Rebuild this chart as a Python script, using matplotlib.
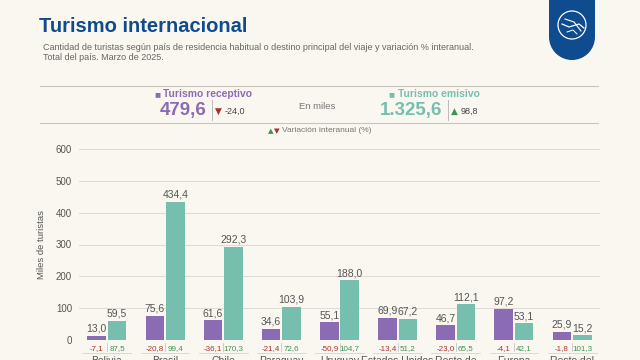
import numpy as np
import matplotlib.pyplot as plt
from matplotlib.patches import Rectangle, Circle

plt.rcParams['font.family'] = ['Liberation Sans', 'DejaVu Sans']

# Datos
categorias = ["Bolivia", "Brasil", "Chile", "Paraguay", "Uruguay", "Estados Unidos",
              "Resto de\nAmérica", "Europa", "Resto del\nmundo"]
receptivo = [13.0, 75.6, 61.6, 34.6, 55.1, 69.9, 46.7, 97.2, 25.9]
emisivo = [59.5, 434.4, 292.3, 103.9, 188.0, 67.2, 112.1, 53.1, 15.2]
var_receptivo = [-7.1, -20.8, -36.1, -21.4, -50.9, -13.4, -23.0, -4.1, -1.8]
var_emisivo = [87.5, 99.4, 170.3, 72.6, 104.7, 51.2, 65.5, 42.1, 101.3]
total_receptivo = 479.6
total_emisivo = 1325.6
var_total_receptivo = -24.0
var_total_emisivo = 98.8

BG = "#faf7f0"
PURPLE = "#8b6bb3"
TEAL = "#76bfae"
BLUE = "#0f4c8f"
RED = "#a8322b"
GREEN = "#3f9455"
GREY = "#555555"

W, H = 640, 360


def fx(px):
    return px / W


def fy(py):
    return 1 - py / H


def fmt(v, dec=1):
    s = f"{v:,.{dec}f}"
    return s.replace(",", "X").replace(".", ",").replace("X", ".")


fig = plt.figure(figsize=(6.4, 3.6), dpi=100, facecolor=BG)

# Encabezado
fig.text(fx(39), fy(27), "Turismo internacional", fontsize=14.5, fontweight="bold",
         color=BLUE, va="center", ha="left")
fig.text(fx(43), fy(47), "Cantidad de turistas según país de residencia habitual o destino principal "
         "del viaje y variación % interanual.", fontsize=6.5, color="#666666", va="center")
fig.text(fx(43), fy(58), "Total del país. Marzo de 2025.", fontsize=6.5, color="#666666", va="center")

# Logo
lax = fig.add_axes([fx(549), fy(60), fx(46), 60 / H])
lax.set_xlim(0, 46)
lax.set_ylim(0, 60)
lax.set_aspect("equal", adjustable="datalim")
lax.axis("off")
lax.add_patch(Rectangle((0, 23), 46, 40, color=BLUE, lw=0))
lax.add_patch(Circle((23, 23), 23, color=BLUE, lw=0))
lax.add_patch(Circle((23, 35), 14, fill=False, ec="white", lw=0.9))
lax.plot([13, 20, 30, 35], [36, 33, 36, 32], color="white", lw=0.9)
lax.plot([16, 25, 32], [41, 38, 29], color="white", lw=0.8)
lax.plot([18, 24, 28], [28, 30, 26], color="white", lw=0.7)

# Líneas del bloque de totales
fig.add_artist(plt.Line2D([fx(40), fx(598)], [fy(86), fy(86)], color="#c8c4bc", lw=0.8))
fig.add_artist(plt.Line2D([fx(40), fx(598)], [fy(123), fy(123)], color="#c8c4bc", lw=0.8))

# Totales
fig.text(fx(154), fy(94), "■", fontsize=7.2, color=PURPLE, va="center")
fig.text(fx(163), fy(94), "Turismo receptivo", fontsize=7.4, fontweight="bold", color=PURPLE, va="center")
fig.text(fx(206), fy(110.5), fmt(total_receptivo), fontsize=13.5, fontweight="bold",
         color=PURPLE, va="center", ha="right")
fig.add_artist(plt.Line2D([fx(212), fx(212)], [fy(100), fy(120)], color="#bbbbbb", lw=0.7))
fig.text(fx(215), fy(111), "▼", fontsize=6.5, color=RED, va="center", family="DejaVu Sans")
fig.text(fx(225), fy(111), fmt(var_total_receptivo), fontsize=6.5, color="#444444", va="center")

fig.text(fx(317), fy(106), "En miles", fontsize=6.8, color="#777777", va="center", ha="center")

fig.text(fx(388), fy(94), "■", fontsize=7.2, color=TEAL, va="center")
fig.text(fx(398), fy(94), "Turismo emisivo", fontsize=7.4, fontweight="bold", color=TEAL, va="center")
fig.text(fx(442), fy(110.5), fmt(total_emisivo), fontsize=13.5, fontweight="bold",
         color=TEAL, va="center", ha="right")
fig.add_artist(plt.Line2D([fx(448), fx(448)], [fy(100), fy(120)], color="#bbbbbb", lw=0.7))
fig.text(fx(451), fy(111), "▲", fontsize=6.5, color=GREEN, va="center", family="DejaVu Sans")
fig.text(fx(461), fy(111), fmt(var_total_emisivo), fontsize=6.5, color="#444444", va="center")

fig.text(fx(268), fy(131), "▲", fontsize=5.2, color=GREEN, va="center", family="DejaVu Sans")
fig.text(fx(274), fy(131), "▼", fontsize=5.2, color=RED, va="center", family="DejaVu Sans")
fig.text(fx(282), fy(131), "Variación interanual (%)", fontsize=6, color="#777777", va="center")

# Gráfico de barras
ax = fig.add_axes([fx(79), 20 / H, 521 / W, 191 / H])
ax.set_facecolor(BG)
x = np.arange(len(categorias))
bw = 0.32
off = 0.175
ax.bar(x - off, receptivo, bw, color=PURPLE, zorder=3)
ax.bar(x + off, emisivo, bw, color=TEAL, zorder=3)
ax.set_xlim(-0.48, 8.48)
ax.set_ylim(0, 600)
ax.set_yticks(range(0, 601, 100))
ax.tick_params(axis="y", length=0, labelsize=7, labelcolor=GREY, pad=5)
ax.set_xticks([])
ax.grid(axis="y", color="#dedbd4", lw=0.7, zorder=0)
for s in ax.spines.values():
    s.set_visible(False)
ax.set_ylabel("Miles de turistas", fontsize=6.8, color=GREY, labelpad=7)

for i in range(len(categorias)):
    ax.annotate(fmt(receptivo[i]), (x[i] - off, receptivo[i]), xytext=(0, 1.5),
                textcoords="offset points", ha="center", va="bottom", fontsize=7.5, color=GREY)
    ax.annotate(fmt(emisivo[i]), (x[i] + off, emisivo[i]), xytext=(0, 1.5),
                textcoords="offset points", ha="center", va="bottom", fontsize=7.5, color=GREY)
    ax.annotate(fmt(var_receptivo[i]), (x[i] - off, 0), xytext=(0, -6),
                textcoords="offset points", ha="center", va="center", fontsize=5.8,
                color=RED if var_receptivo[i] < 0 else GREEN, annotation_clip=False)
    ax.annotate(fmt(var_emisivo[i]), (x[i] + off, 0), xytext=(0, -6),
                textcoords="offset points", ha="center", va="center", fontsize=5.8,
                color=RED if var_emisivo[i] < 0 else GREEN, annotation_clip=False)
    # separadores
    ax.plot([x[i], x[i]], [-8, -36], color="#bbbbbb", lw=0.5, clip_on=False)
    ax.plot([x[i] - 0.42, x[i] + 0.42], [-40, -40], color="#cccccc", lw=0.5, clip_on=False)
    ax.annotate(categorias[i], (x[i], 0), xytext=(0, -11.5), textcoords="offset points",
                ha="center", va="top", fontsize=7.5, color=GREY, annotation_clip=False,
                linespacing=1.0)

fig.savefig("out.png", dpi=100, facecolor=BG)
